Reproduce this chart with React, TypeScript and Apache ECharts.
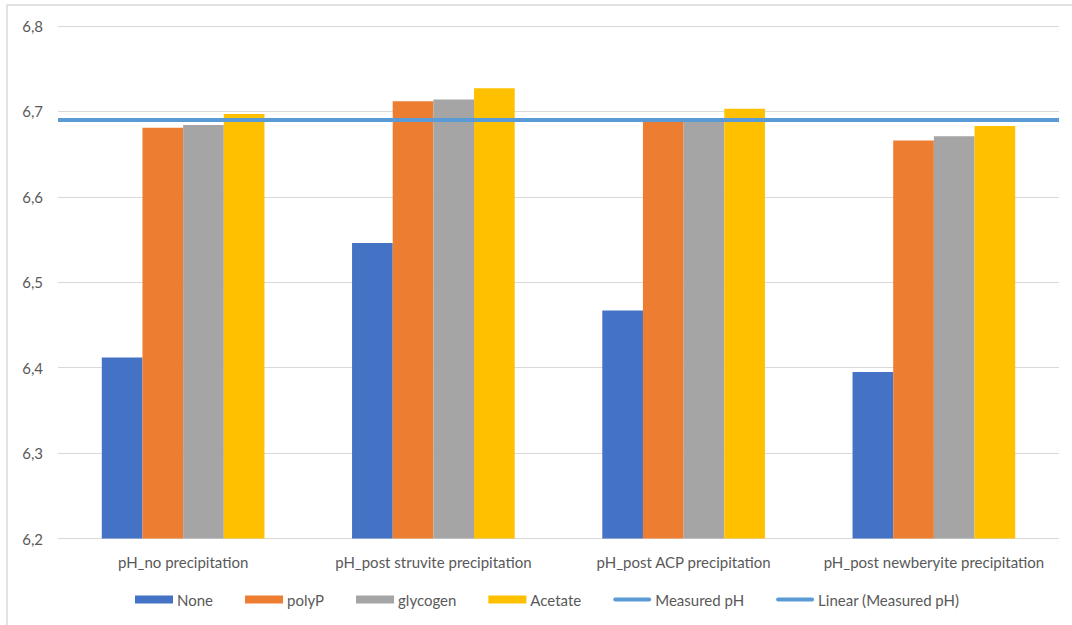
import React, { useEffect, useRef } from "react";
import * as echarts from "echarts";

const categories = [
  "pH_no precipitation",
  "pH_post struvite precipitation",
  "pH_post ACP precipitation",
  "pH_post newberyite precipitation",
];
const noneValues = [6.412, 6.546, 6.467, 6.395];
const polyPValues = [6.681, 6.712, 6.688, 6.666];
const glycogenValues = [6.684, 6.714, 6.689, 6.671];
const acetateValues = [6.697, 6.727, 6.703, 6.683];
const measuredValues = [6.69, 6.69, 6.69, 6.69];

const TEXT = "#595959";
const FONT = "Lato, 'Open Sans', sans-serif";
const LINE_BLUE = "#5B9BD5";
const lineIcon =
  "path://M2,0 H36 A2,2 0 0 1 36,4 H2 A2,2 0 0 1 2,0 Z";

// least-squares fit of the measured values over category index
function linearFit(values: number[]) {
  const n = values.length;
  const xs = values.map((_, i) => i);
  const mx = xs.reduce((a, b) => a + b, 0) / n;
  const my = values.reduce((a, b) => a + b, 0) / n;
  let num = 0;
  let den = 0;
  xs.forEach((x, i) => {
    num += (x - mx) * (values[i] - my);
    den += (x - mx) * (x - mx);
  });
  const slope = den === 0 ? 0 : num / den;
  return { slope, intercept: my - slope * mx };
}

export default function App() {
  const ref = useRef<HTMLDivElement>(null);

  useEffect(() => {
    if (!ref.current) return;
    const chart = echarts.init(ref.current, null, { renderer: "svg" });
    const fit = linearFit(measuredValues);
    const fitValue = fit.intercept + fit.slope * ((measuredValues.length - 1) / 2);

    const barSeries = (name: string, data: number[], color: string) => ({
      name,
      type: "bar",
      data,
      barGap: "0%",
      barCategoryGap: "35%",
      itemStyle: { color },
      z: 2,
    });

    chart.setOption({
      animation: false,
      backgroundColor: "#ffffff",
      textStyle: { fontFamily: FONT },
      graphic: [
        {
          type: "rect",
          shape: { x: 7, y: 5, width: 1200, height: 800 },
          style: { fill: "none", stroke: "#d9d9d9", lineWidth: 1.5 },
          silent: true,
          z: -1,
        },
      ],
      grid: { left: 58, right: 13, top: 26, bottom: 86.5, containLabel: false },
      xAxis: {
        type: "category",
        data: categories,
        axisLine: { show: false },
        axisTick: { show: false },
        axisLabel: { color: TEXT, fontSize: 15, fontFamily: FONT, margin: 16, interval: 0 },
      },
      yAxis: {
        type: "value",
        min: 6.2,
        max: 6.8,
        interval: 0.1,
        axisLine: { show: false },
        axisTick: { show: false },
        splitLine: { lineStyle: { color: "#d9d9d9", width: 1 } },
        axisLabel: {
          color: TEXT,
          fontSize: 15,
          fontFamily: FONT,
          margin: 15,
          formatter: (v: number) => v.toFixed(1).replace(".", ","),
        },
      },
      legend: {
        bottom: 13,
        left: 130,
        itemWidth: 38,
        itemHeight: 8,
        itemGap: 32,
        textStyle: { color: TEXT, fontSize: 15, fontFamily: FONT, padding: [0, 0, 0, -1] },
        data: [
          { name: "None", icon: "rect" },
          { name: "polyP", icon: "rect" },
          { name: "glycogen", icon: "rect" },
          { name: "Acetate", icon: "rect" },
          { name: "Measured pH", icon: lineIcon },
          { name: "Linear (Measured pH)", icon: lineIcon },
        ],
      },
      series: [
        barSeries("None", noneValues, "#4472C4"),
        barSeries("polyP", polyPValues, "#ED7D31"),
        barSeries("glycogen", glycogenValues, "#A5A5A5"),
        barSeries("Acetate", acetateValues, "#FFC000"),
        {
          name: "Measured pH",
          type: "line",
          data: measuredValues,
          symbol: "none",
          lineStyle: { color: LINE_BLUE, width: 4 },
          itemStyle: { color: LINE_BLUE },
          z: 5,
        },
        {
          name: "Linear (Measured pH)",
          type: "line",
          data: [],
          symbol: "none",
          lineStyle: { color: LINE_BLUE, width: 4 },
          itemStyle: { color: LINE_BLUE },
          z: 5,
          markLine: {
            silent: true,
            symbol: "none",
            label: { show: false },
            lineStyle: { color: LINE_BLUE, width: 4, type: "solid" },
            data: [{ yAxis: fitValue }],
          },
        },
      ],
    });
    return () => chart.dispose();
  }, []);

  return (
    <div
      ref={ref}
      style={{ position: "fixed", left: 0, top: 0, width: 1072, height: 625 }}
    />
  );
}
